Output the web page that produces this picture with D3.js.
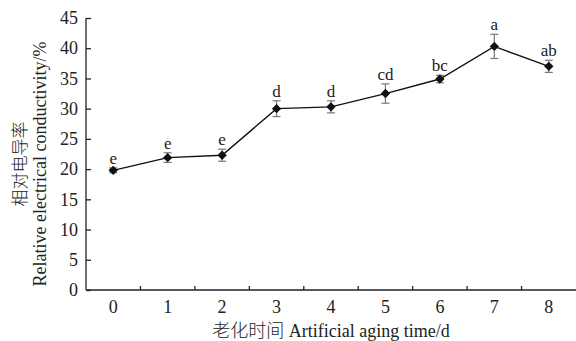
<!DOCTYPE html>
<html>
<head>
<meta charset="utf-8">
<script src="https://cdn.jsdelivr.net/npm/d3@7"></script>
<style>
  body { margin: 0; background: #fff; }
  svg { display: block; font-family: "Liberation Serif", "Noto Sans CJK SC", serif; }
</style>
</head>
<body>
<svg width="576" height="341"></svg>
<script>
// Data
const days = [0, 1, 2, 3, 4, 5, 6, 7, 8];
const conductivity = [19.8, 21.9, 22.3, 30.0, 30.3, 32.5, 34.9, 40.3, 37.0];
const errors = [0.4, 0.8, 1.0, 1.3, 1.0, 1.6, 0.6, 2.0, 1.0];
const letters = ["e", "e", "e", "d", "d", "cd", "bc", "a", "ab"];
const yTicks = [0, 5, 10, 15, 20, 25, 30, 35, 40, 45];

const svg = d3.select("svg");
const margin = { top: 18, right: 0, bottom: 51, left: 86 };
const width = 576 - margin.left - margin.right;
const height = 341 - margin.top - margin.bottom;

const g = svg.append("g").attr("transform", `translate(${margin.left},${margin.top})`);

const x = d3.scaleBand().domain(days).range([0, width]);
const y = d3.scaleLinear().domain([0, 45]).range([height, 0]);

const rows = days.map((d, i) => ({ day: d, v: conductivity[i], e: errors[i], lab: letters[i] }));
const cx = d => x(d.day) + x.bandwidth() / 2;

// x axis: ticks sit on band edges, pointing inward
const xa = g.append("g").attr("transform", `translate(0,${height})`);
xa.append("line").attr("x1", 0).attr("x2", width).attr("stroke", "#222").attr("stroke-width", 1.3);
xa.selectAll(".tk").data(days.slice(1)).join("line")
    .attr("x1", d => x(d)).attr("x2", d => x(d))
    .attr("y1", 0).attr("y2", -4)
    .attr("stroke", "#222").attr("stroke-width", 1.3);
xa.selectAll(".lb").data(days).join("text")
    .attr("x", d => x(d) + x.bandwidth() / 2)
    .attr("y", 23)
    .attr("text-anchor", "middle")
    .attr("font-size", 18)
    .attr("fill", "#222")
    .text(d => d);

// y axis
const ya = g.append("g")
    .call(d3.axisLeft(y).tickValues(yTicks).tickSize(-5).tickPadding(8));
ya.select(".domain").attr("stroke", "#222").attr("stroke-width", 1.3).attr("d", `M0,0V${height}`);
ya.selectAll(".tick line").attr("stroke", "#222").attr("stroke-width", 1.3);
ya.selectAll(".tick text").attr("font-size", 18).attr("fill", "#222")
    .attr("font-family", "Liberation Serif");

// error bars
const eb = g.selectAll(".eb").data(rows).join("g").attr("stroke", "#777").attr("stroke-width", 1.2);
eb.append("line").attr("x1", cx).attr("x2", cx).attr("y1", d => y(d.v + d.e)).attr("y2", d => y(d.v - d.e));
eb.append("line").attr("x1", d => cx(d) - 4).attr("x2", d => cx(d) + 4).attr("y1", d => y(d.v + d.e)).attr("y2", d => y(d.v + d.e));
eb.append("line").attr("x1", d => cx(d) - 4).attr("x2", d => cx(d) + 4).attr("y1", d => y(d.v - d.e)).attr("y2", d => y(d.v - d.e));

// line
g.append("path").datum(rows)
    .attr("fill", "none").attr("stroke", "#111").attr("stroke-width", 1.4)
    .attr("d", d3.line().x(cx).y(d => y(d.v)));

// diamond markers
g.selectAll(".pt").data(rows).join("path")
    .attr("transform", d => `translate(${cx(d)},${y(d.v)}) rotate(45)`)
    .attr("d", d3.symbol(d3.symbolSquare, 44))
    .attr("fill", "#111");

// significance letters
g.selectAll(".sig").data(rows).join("text")
    .attr("x", cx)
    .attr("y", d => y(d.v + d.e) - 4)
    .attr("text-anchor", "middle")
    .attr("font-size", 17)
    .attr("fill", "#222")
    .text(d => d.lab);

// axis titles
const xt = svg.append("text")
    .attr("x", margin.left + width / 2).attr("y", 337)
    .attr("text-anchor", "middle").attr("font-size", 18).attr("fill", "#222");
xt.append("tspan").attr("font-weight", 300).text("老化时间");
xt.append("tspan").text(" Artificial aging time/d");

const yt = svg.append("text")
    .attr("transform", `translate(0,164) rotate(-90)`)
    .attr("text-anchor", "middle").attr("font-size", 18).attr("fill", "#222");
yt.append("tspan").attr("x", 0).attr("y", 26).attr("font-size", 17).attr("font-weight", 300).text("相对电导率");
yt.append("tspan").attr("x", 0).attr("y", 46).text("Relative electrical conductivity/%");
</script>
</body>
</html>
